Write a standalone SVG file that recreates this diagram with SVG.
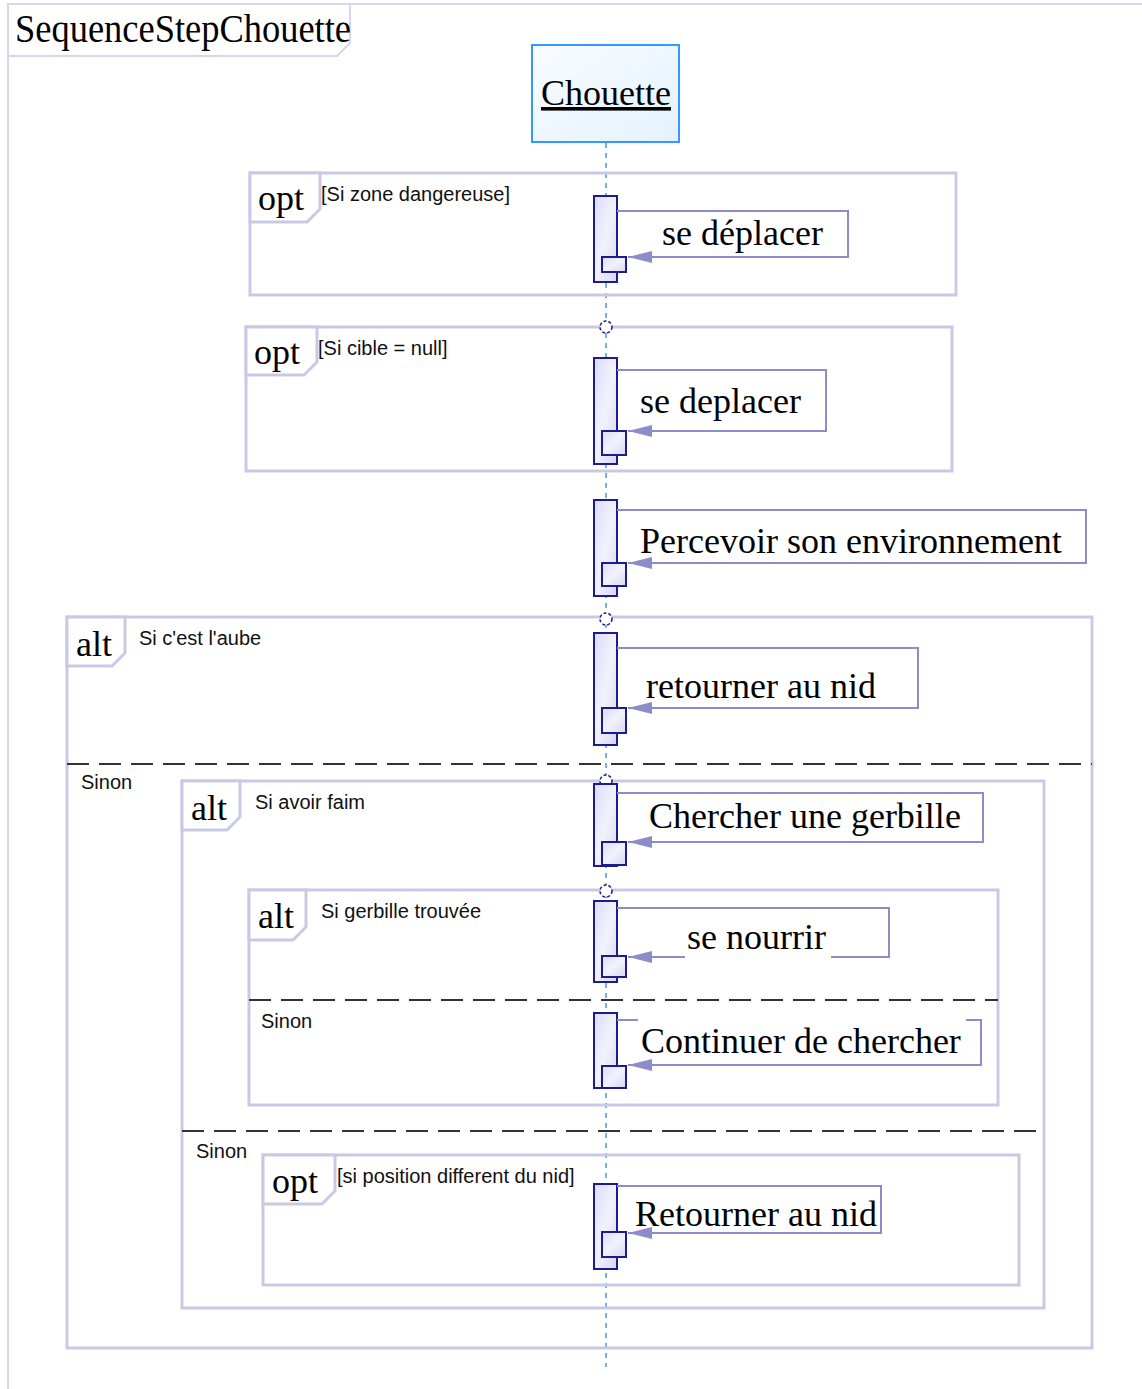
<svg xmlns="http://www.w3.org/2000/svg" width="1142" height="1389" viewBox="0 0 1142 1389">
<style>
.frame{fill:none;stroke:#d6d6ee;stroke-width:2}
.frag{fill:none;stroke:#c9c9e6;stroke-width:3}
.tab{fill:#fff;stroke:#c9c9e6;stroke-width:3}
.op{font-family:"Liberation Serif",serif;font-size:36px;fill:#000}
.title{font-family:"Liberation Serif",serif;font-size:40px;fill:#000}
.guard{font-family:"Liberation Sans",Arial,sans-serif;font-size:20px;fill:#111}
.sinon{font-family:"Liberation Sans",Arial,sans-serif;font-size:20px;fill:#111}
.act{fill:url(#actg);stroke:#1c1c8c;stroke-width:2}
.msg{fill:none;stroke:#8c8cc8;stroke-width:2}
.lbl{font-family:"Liberation Serif",serif;font-size:36px;fill:#000}
.sep{stroke:#333;stroke-width:2;stroke-dasharray:22 10;fill:none}
.life{stroke:#3d9bf0;stroke-width:1.5;stroke-dasharray:5 5;fill:none}
.mark{fill:#fff;stroke:#1c1c8c;stroke-width:1.5;stroke-dasharray:3 2}
</style>
<defs>
<linearGradient id="actg" x1="0" y1="0" x2="1" y2="1">
<stop offset="0" stop-color="#dcdcf8"/>
<stop offset="0.5" stop-color="#f2f2fd"/>
<stop offset="1" stop-color="#d6d6f6"/>
</linearGradient>
<linearGradient id="lifeg" x1="0" y1="0" x2="1" y2="1">
<stop offset="0" stop-color="#f9fcff"/>
<stop offset="1" stop-color="#e4f2fd"/>
</linearGradient>
<marker id="arr" viewBox="0 0 24 14" refX="24" refY="7" markerWidth="24" markerHeight="14" markerUnits="userSpaceOnUse" orient="auto">
<path d="M0,1 L24,7 L0,13 z" fill="#8c8cc8"/>
</marker>
</defs>

<g id="frame">
<path class="frame" d="M8,1389 V4 H1142"/>
<path class="frame" d="M8,56 H337 L350,43 V4"/>
<text class="title" x="15" y="42" textLength="336" lengthAdjust="spacingAndGlyphs">SequenceStepChouette</text>
</g>

<g id="chouette">
<rect x="532" y="45" width="147" height="97" fill="url(#lifeg)" stroke="#3399ff" stroke-width="2"/>
<text x="606" y="105" text-anchor="middle" font-family="Liberation Serif, serif" font-size="36" text-decoration="underline">Chouette</text>
</g>

<g id="lifeline">
<line class="life" x1="606" y1="143" x2="606" y2="1367"/>
</g>

<g id="frag-opt1">
<rect class="frag" x="250" y="173" width="706" height="122"/>
<path class="tab" d="M250,173 H320 V209 L307,222 H250 Z"/>
<text class="op" x="258" y="210">opt</text>
<text class="guard" x="321" y="201">[Si zone dangereuse]</text>
</g>

<g id="frag-opt2">
<rect class="frag" x="246" y="327" width="706" height="144"/>
<path class="tab" d="M246,327 H317 V362 L304,375 H246 Z"/>
<text class="op" x="254" y="364">opt</text>
<text class="guard" x="318" y="355">[Si cible = null]</text>
</g>

<g id="frag-alt1">
<rect class="frag" x="67" y="617" width="1025" height="731"/>
<path class="tab" d="M67,617 H125 V653 L112,666 H67 Z"/>
<text class="op" x="76" y="656">alt</text>
<text class="guard" x="139" y="645">Si c'est l'aube</text>
<line class="sep" x1="67" y1="764" x2="1092" y2="764"/>
<text class="sinon" x="81" y="789">Sinon</text>
</g>

<g id="frag-alt2">
<rect class="frag" x="182" y="781" width="862" height="527"/>
<path class="tab" d="M182,781 H240 V817 L227,830 H182 Z"/>
<text class="op" x="191" y="820">alt</text>
<text class="guard" x="255" y="809">Si avoir faim</text>
<line class="sep" x1="182" y1="1131" x2="1044" y2="1131"/>
<text class="sinon" x="196" y="1158">Sinon</text>
</g>

<g id="frag-alt3">
<rect class="frag" x="249" y="890" width="749" height="215"/>
<path class="tab" d="M249,890 H306 V927 L293,940 H249 Z"/>
<text class="op" x="258" y="928">alt</text>
<text class="guard" x="321" y="918">Si gerbille trouvée</text>
<line class="sep" x1="249" y1="1000" x2="998" y2="1000"/>
<text class="sinon" x="261" y="1028">Sinon</text>
</g>

<g id="frag-opt3">
<rect class="frag" x="263" y="1155" width="756" height="130"/>
<path class="tab" d="M263,1155 H335 V1191 L322,1204 H263 Z"/>
<text class="op" x="272" y="1193">opt</text>
<text class="guard" x="337" y="1183">[si position different du nid]</text>
</g>

<g id="markers">
<circle class="mark" cx="606" cy="327" r="6"/>
<circle class="mark" cx="606" cy="619" r="6"/>
<circle class="mark" cx="606" cy="781" r="6"/>
<circle class="mark" cx="606" cy="891" r="6"/>
</g>

<g id="act1">
<rect class="act" x="594" y="196" width="23" height="86"/>
<rect class="act" x="602" y="257" width="24" height="15"/>
</g>
<g id="act2">
<rect class="act" x="594" y="358" width="23" height="106"/>
<rect class="act" x="602" y="431" width="24" height="24"/>
</g>
<g id="act3">
<rect class="act" x="594" y="500" width="23" height="96"/>
<rect class="act" x="602" y="563" width="24" height="23"/>
</g>
<g id="act4">
<rect class="act" x="594" y="633" width="23" height="112"/>
<rect class="act" x="602" y="708" width="24" height="25"/>
</g>
<g id="act5">
<rect class="act" x="594" y="784" width="23" height="82"/>
<rect class="act" x="602" y="842" width="24" height="23"/>
</g>
<g id="act6">
<rect class="act" x="594" y="901" width="23" height="81"/>
<rect class="act" x="602" y="956" width="24" height="21"/>
</g>
<g id="act7">
<rect class="act" x="594" y="1013" width="23" height="75"/>
<rect class="act" x="602" y="1066" width="24" height="22"/>
</g>
<g id="act8">
<rect class="act" x="594" y="1184" width="23" height="85"/>
<rect class="act" x="602" y="1232" width="24" height="25"/>
</g>

<g id="connectors">
<path class="msg" d="M617,211 H848 V257 H628" marker-end="url(#arr)"/>
<path class="msg" d="M617,370 H826 V431 H628" marker-end="url(#arr)"/>
<path class="msg" d="M617,510 H1086 V563 H628" marker-end="url(#arr)"/>
<path class="msg" d="M617,648 H918 V708 H628" marker-end="url(#arr)"/>
<path class="msg" d="M617,793 H983 V842 H628" marker-end="url(#arr)"/>
<path class="msg" d="M617,908 H889 V957 H628" marker-end="url(#arr)"/>
<path class="msg" d="M617,1020 H981 V1065 H628" marker-end="url(#arr)"/>
<path class="msg" d="M617,1186 H881 V1233 H628" marker-end="url(#arr)"/>
</g>

<g id="labels">
<text class="lbl" x="662" y="245">se déplacer</text>
<text class="lbl" x="640" y="413">se deplacer</text>
<text class="lbl" x="640" y="553">Percevoir son environnement</text>
<text class="lbl" x="646" y="698">retourner au nid</text>
<text class="lbl" x="649" y="828">Chercher une gerbille</text>
<rect x="685" y="916" width="146" height="46" fill="#fff"/>
<text class="lbl" x="687" y="949">se nourrir</text>
<rect x="638" y="1015" width="328" height="30" fill="#fff"/>
<text class="lbl" x="641" y="1053">Continuer de chercher</text>
<text class="lbl" x="635" y="1226">Retourner au nid</text>
</g>
</svg>
